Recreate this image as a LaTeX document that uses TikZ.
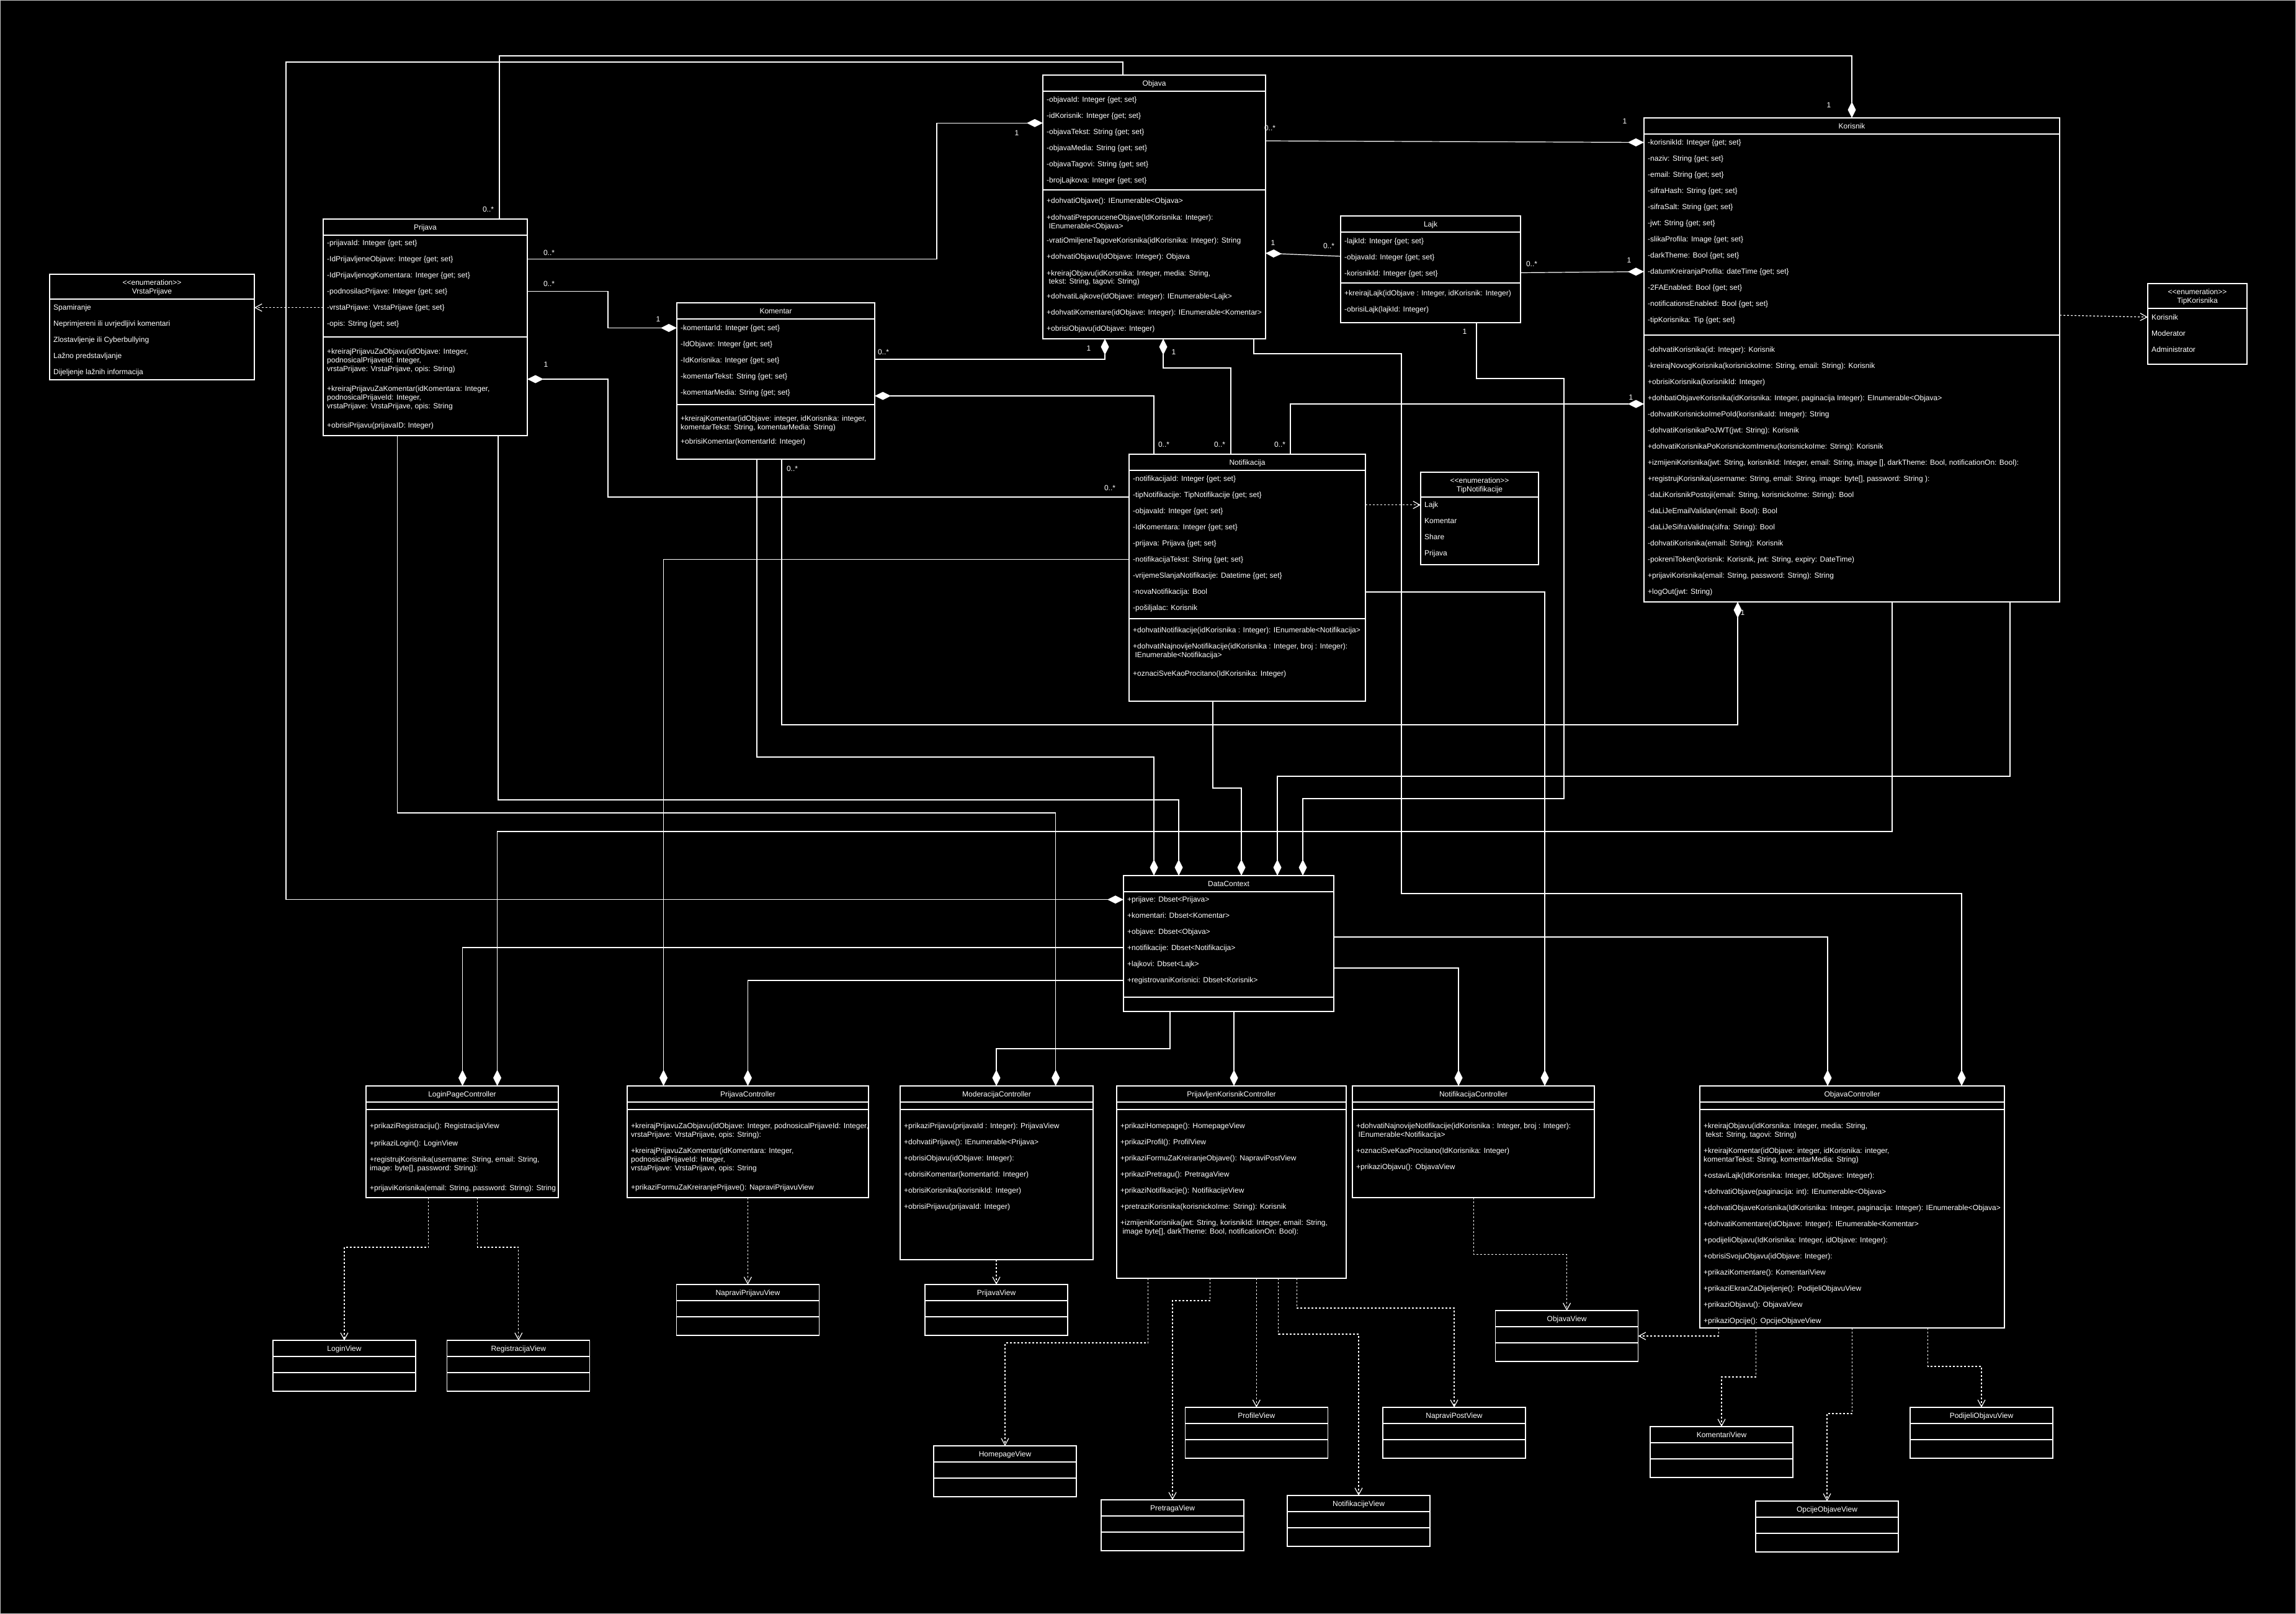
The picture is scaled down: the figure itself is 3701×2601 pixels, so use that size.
\documentclass[tikz,border=0pt]{standalone}
\usepackage{fontspec}
\setmainfont{Liberation Sans}
\usetikzlibrary{arrows.meta}

% class box: name, x, y, width, height, title, offset of the attribute/method separator
\newcommand\umlclass[7]{%
  \node[box, minimum width=#4pt, minimum height=#5pt] (#1) at (#2,#3) {};
  \draw[frame] ([yshift=-26pt]#1.north west) -- ([yshift=-26pt]#1.north east);
  \draw[frame] ([yshift=-#7pt]#1.north west) -- ([yshift=-#7pt]#1.north east);
  \node[ctr] (#1-title) at ([yshift=-13pt]#1.north) {#6};
}
% enumeration box: name, x, y, width, height, title
\newcommand\umlenum[6]{%
  \node[box, minimum width=#4pt, minimum height=#5pt] (#1) at (#2,#3) {};
  \draw[frame] ([yshift=-40pt]#1.north west) -- ([yshift=-40pt]#1.north east);
  \node[ctr] (#1-st) at ([yshift=-13.5pt]#1.north) {<{}<enumeration>{}>};
  \node[ctr] (#1-title) at ([yshift=-27.5pt]#1.north) {#6};
}
% view box: name, centre x, top y, title
\newcommand\umlview[4]{%
  \node[box, minimum width=230pt, minimum height=82pt] (#1) at (#2-115,#3) {};
  \draw[frame] ([yshift=-26pt]#1.north west) -- ([yshift=-26pt]#1.north east);
  \draw[frame] ([yshift=-52pt]#1.north west) -- ([yshift=-52pt]#1.north east);
  \node[ctr] (#1-title) at ([yshift=-13pt]#1.north) {#4};
}
% evenly spaced member rows: prefix, x, first row centre y, list
\newcommand\umlrows[4]{%
  \foreach \rowtext [count=\ri] in {#4} {\node[txt] (#1\ri) at (#2,#3+26*\ri-26) {\rowtext};}%
}
% one member line: name, x, centre y, text
\newcommand\umlline[4]{\node[txt] (#1) at (#2,#3) {#4};}

\begin{document}
\begin{tikzpicture}[x=1pt,y=-1pt,
  frame/.style={white, line width=1.2pt},
  box/.style={draw=white, line width=1.2pt, fill=black, anchor=north west, inner sep=0pt, outer sep=0pt},
  comp/.style={white, line width=1.2pt, -{Diamond[length=26pt,width=13pt]}},
  dep/.style={white, line width=1.2pt, dash pattern=on 3pt off 3pt, -{Straight Barb[length=11pt,width=12pt]}},
  txt/.style={text=white, anchor=base west, inner sep=0pt, yshift=-4.2pt, font=\fontsize{12}{14}\selectfont},
  ctr/.style={txt, anchor=base},
  mult/.style={text=white, inner sep=0pt, font=\fontsize{12}{14}\selectfont}
]
\useasboundingbox (0,0) rectangle (3701,2601);
\fill[black] (0,0) rectangle (3701,2601);
\draw[gray!45, line width=1pt] (0.5,0.5) rectangle (3700.5,2600.5);

% ---------- boxes ----------
\umlclass{objava}{1681}{121}{359}{425}{Objava}{185}
\umlclass{korisnik}{2650}{190}{670}{780}{Korisnik}{350}
\umlclass{prijava}{521}{353}{329}{349}{Prijava}{190}
\umlclass{komentar}{1091}{488}{319}{252}{Komentar}{164}
\umlclass{lajk}{2161}{348}{290}{172}{Lajk}{108}
\umlclass{notif}{1820}{732}{381}{398}{Notifikacija}{265}
\umlclass{dc}{1811}{1411}{339}{219}{DataContext}{196}
\umlclass{lc}{590}{1750}{310}{180}{LoginPageController}{38}
\umlclass{pc}{1011}{1750}{389}{180}{PrijavaController}{38}
\umlclass{mc}{1451}{1750}{311}{280}{ModeracijaController}{38}
\umlclass{pk}{1800}{1750}{370}{310}{PrijavljenKorisnikController}{38}
\umlclass{nc}{2180}{1750}{390}{180}{NotifikacijaController}{38}
\umlclass{oc}{2740}{1750}{491}{390}{ObjavaController}{38}
\umlenum{vp}{80}{442}{330}{170}{VrstaPrijave}
\umlenum{tn}{2290}{761}{190}{149}{TipNotifikacije}
\umlenum{tk}{3462}{457}{160}{130}{TipKorisnika}

% ---------- compositions ----------
\draw[comp] (prijava.north -| 805,0) |- (2985,90) -- (korisnik.north);
\draw[comp] (objava.north -| 1810,0) |- (461,100) |- (dc.west |- 0,1449.7);
\draw[comp] (prijava.east |- 0,417.7) -| (1510,198.3) -- (objava.west |- 0,198.3);
\draw[comp] (prijava.east |- 0,469.5) -| (980,528.5) -- (komentar.west |- 0,528.5);
\draw[comp] (notif.west |- 0,801) -| (980,611) -- (prijava.east |- 0,611);
\draw[comp] (komentar.east |- 0,579) -| (objava.south -| 1781,0);
\draw[comp] (notif.north -| 1984,0) |- (1875,593) -- (objava.south -| 1875,0);
\draw[comp] (notif.north -| 1860,0) |- (komentar.east |- 0,638);
\draw[comp] (notif.north -| 2080,0) |- (korisnik.west |- 0,651);
\draw[comp] (objava.east |- 0,227) -- (korisnik.west |- 0,229.5);
\draw[comp] (lajk.west |- 0,413) -- (objava.east |- 0,408);
\draw[comp] (lajk.east |- 0,439.5) -- (korisnik.west |- 0,437.7);
\draw[comp] (objava.south -| 2021,0) |- (2259,570) |- (3162,1440) -- (oc.north -| 3162,0);
\draw[comp] (lajk.south -| 2380,0) |- (2521,610) |- (2100,1287) -- (dc.north -| 2100,0);
\draw[comp] (notif.east |- 0,954) -| (nc.north -| 2490,0);
\draw[comp] (notif.west |- 0,901.7) -| (pc.north -| 1069.5,0);
\draw[comp] (komentar.south -| 1220,0) |- (1860,1220) -- (dc.north -| 1860,0);
\draw[comp] (komentar.south -| 1260,0) |- (2801,1168) -- (korisnik.south -| 2801,0);
\draw[comp] (prijava.south -| 803,0) |- (1900,1289) -- (dc.north -| 1900,0);
\draw[comp] (prijava.south -| 640.6,0) |- (1701.7,1310) -- (mc.north -| 1701.7,0);
\draw[comp] (korisnik.south -| 3050,0) |- (801.6,1340) -- (lc.north -| 801.6,0);
\draw[comp] (korisnik.south -| 3240,0) |- (2059,1251) -- (dc.north -| 2059,0);
\draw[comp] (notif.south -| 1955,0) |- (2001,1270) -- (dc.north -| 2001,0);
\draw[comp] (dc.east |- 0,1510) -| (oc.north -| 2946,0);
\draw[comp] (dc.east |- 0,1560) -| (nc.north -| 2351,0);
\draw[comp] (dc.west |- 0,1527) -| (lc.north -| 745.5,0);
\draw[comp] (dc.west |- 0,1580) -| (pc.north -| 1205.4,0);
\draw[comp] (dc.south -| 1886,0) |- (1606,1690) -- (mc.north -| 1606,0);
\draw[comp] (dc.south -| 1989,0) -- (pk.north -| 1989,0);

% ---------- enumeration dependencies ----------
\draw[dep] (prijava.west |- 0,495.7) -- (vp.east |- 0,495.7);
\draw[dep] (notif.east |- 0,813.7) -- (tn.west |- 0,813.7);
\draw[dep] (korisnik.east |- 0,508) -- (tk.west |- 0,511);

% ---------- views ----------
\umlview{loginv}{555}{2160}{LoginView}
\umlview{regv}{835.8}{2160}{RegistracijaView}
\umlview{nprv}{1205.4}{2070}{NapraviPrijavuView}
\umlview{prv}{1606}{2070}{PrijavaView}
\umlview{homev}{1620}{2330}{HomepageView}
\umlview{pretv}{1890}{2417}{PretragaView}
\umlview{profv}{2025.3}{2268}{ProfileView}
\umlview{notv}{2190}{2410}{NotifikacijeView}
\umlview{npostv}{2344}{2268}{NapraviPostView}
\umlview{objv}{2525.6}{2112}{ObjavaView}
\umlview{komv}{2775}{2299}{KomentariView}
\umlview{opcv}{2945}{2419}{OpcijeObjaveView}
\umlview{podv}{3194}{2268}{PodijeliObjavuView}

\draw[dep] (lc.south -| 690.8,0) |- (555,2010) -- (loginv.north);
\draw[dep] (lc.south -| 769.7,0) |- (835.8,2010) -- (regv.north);
\draw[dep] (pc.south -| 1205.4,0) -- (nprv.north);
\draw[dep] (mc.south -| 1606,0) -- (prv.north);
\draw[dep] (pk.south -| 1850.5,0) |- (1620,2164) -- (homev.north);
\draw[dep] (pk.south -| 1950.7,0) |- (1890,2096) -- (pretv.north);
\draw[dep] (pk.south -| 2025.3,0) -- (profv.north);
\draw[dep] (pk.south -| 2060.6,0) |- (2190,2150) -- (notv.north);
\draw[dep] (pk.south -| 2090.3,0) |- (2344,2108) -- (npostv.north);
\draw[dep] (nc.south -| 2375.4,0) |- (2525.6,2021.7) -- (objv.north);
\draw[dep] (oc.south -| 2770.3,0) |- (objv.east |- 0,2153);
\draw[dep] (oc.south -| 2830.3,0) |- (2775,2219) -- (komv.north);
\draw[dep] (oc.south -| 2985.7,0) |- (2945,2278) -- (opcv.north);
\draw[dep] (oc.south -| 3107.7,0) |- (3194,2202) -- (podv.north);

% ---------- multiplicities ----------
\node[mult] (m1) at (787,337) {0..*};
\node[mult] (m2) at (2948,169) {1};
\node[mult] (m3) at (1639,214) {1};
\node[mult] (m4) at (885,407) {0..*};
\node[mult] (m5) at (885,457) {0..*};
\node[mult] (m6) at (1061,514) {1};
\node[mult] (m7) at (880,587) {1};
\node[mult] (m8) at (1424,567) {0..*};
\node[mult] (m9) at (1755,561) {1};
\node[mult] (m10) at (1892,567) {1};
\node[mult] (m11) at (1876,716) {0..*};
\node[mult] (m12) at (1966,716) {0..*};
\node[mult] (m13) at (2063,716) {0..*};
\node[mult] (m14) at (2047,206) {0..*};
\node[mult] (m15) at (2619,195) {1};
\node[mult] (m16) at (2052,391) {1};
\node[mult] (m17) at (2142,396) {0..*};
\node[mult] (m18) at (2469,425) {0..*};
\node[mult] (m19) at (2626,419) {1};
\node[mult] (m20) at (2629,640) {1};
\node[mult] (m21) at (2361,534) {1};
\node[mult] (m22) at (1277,755) {0..*};
\node[mult] (m23) at (2809,987) {1};
\node[mult] (m24) at (1789,786) {0..*};

% ---------- Objava ----------
\umlrows{oa}{1687}{160}{{-objavaId: Integer \{get; set\}},{-idKorisnik: Integer \{get; set\}},{-objavaTekst: String \{get; set\}},{-objavaMedia: String \{get; set\}},{-objavaTagovi: String \{get; set\}},{-brojLajkova: Integer \{get; set\}}}
\umlline{om1}{1687}{323.3}{+dohvatiObjave(): IEnumerable<Objava>}
\umlline{om2}{1687}{350}{+dohvatiPreporuceneObjave(IdKorisnika: Integer):}
\umlline{om3}{1687}{364}{\hspace{3.3pt}IEnumerable<Objava>}
\umlline{om4}{1687}{387.3}{-vratiOmiljeneTagoveKorisnika(idKorisnika: Integer): String}
\umlline{om5}{1687}{413.3}{+dohvatiObjavu(IdObjave: Integer): Objava}
\umlline{om6}{1687}{440}{+kreirajObjavu(idKorsnika: Integer, media: String,}
\umlline{om7}{1687}{453.3}{\hspace{3.3pt}tekst: String, tagovi: String)}
\umlline{om8}{1687}{477.7}{+dohvatiLajkove(idObjave: integer): IEnumerable<Lajk>}
\umlline{om9}{1687}{503.3}{+dohvatiKomentare(idObjave: Integer): IEnumerable<Komentar>}
\umlline{om10}{1687}{529.3}{+obrisiObjavu(idObjave: Integer)}

% ---------- Korisnik ----------
\umlrows{ka}{2656}{229.5}{{-korisnikId: Integer \{get; set\}},{-naziv: String \{get; set\}},{-email: String \{get; set\}},{-sifraHash: String \{get; set\}},{-sifraSalt: String \{get; set\}},{-jwt: String \{get; set\}},{-slikaProfila: Image \{get; set\}},{-darkTheme: Bool \{get; set\}},{-datumKreiranjaProfila: dateTime \{get; set\}},{-2FAEnabled: Bool \{get; set\}},{-notificationsEnabled: Bool \{get; set\}},{-tipKorisnika: Tip \{get; set\}}}
\umlrows{km}{2656}{563.7}{{-dohvatiKorisnika(id: Integer): Korisnik},{-kreirajNovogKorisnika(korisnickoIme: String, email: String): Korisnik},{+obrisiKorisnika(korisnikId: Integer)},{+dohbatiObjaveKorisnika(idKorisnika: Integer, paginacija Integer): EInumerable<Objava>},{-dohvatiKorisnickoImePoId(korisnikaId: Integer): String},{-dohvatiKorisnikaPoJWT(jwt: String): Korisnik},{+dohvatiKorisnikaPoKorisnickomImenu(korisnickoIme: String): Korisnik},{+izmijeniKorisnika(jwt: String, korisnikId: Integer, email: String, image [], darkTheme: Bool, notificationOn: Bool):},{+registrujKorisnika(username: String, email: String, image: byte[], password: String ):},{-daLiKorisnikPostoji(email: String, korisnickoIme: String): Bool},{-daLiJeEmailValidan(email: Bool): Bool},{-daLiJeSifraValidna(sifra: String): Bool},{-dohvatiKorisnika(email: String): Korisnik},{-pokreniToken(korisnik: Korisnik, jwt: String, expiry: DateTime)},{+prijaviKorisnika(email: String, password: String): String},{+logOut(jwt: String)}}

% ---------- Prijava ----------
\umlrows{pa}{527}{391.7}{{-prijavaId: Integer \{get; set\}},{-IdPrijavljeneObjave: Integer \{get; set\}},{-IdPrijavljenogKomentara: Integer \{get; set\}},{-podnosilacPrijave: Integer \{get; set\}},{-vrstaPrijave: VrstaPrijave \{get; set\}},{-opis: String \{get; set\}}}
\umlline{pm1}{527}{566}{+kreirajPrijavuZaObjavu(idObjave: Integer,}
\umlline{pm2}{527}{580}{podnosicalPrijaveId: Integer,}
\umlline{pm3}{527}{594}{vrstaPrijave: VrstaPrijave, opis: String)}
\umlline{pm4}{527}{626}{+kreirajPrijavuZaKomentar(idKomentara: Integer,}
\umlline{pm5}{527}{640}{podnosicalPrijaveId: Integer,}
\umlline{pm6}{527}{654}{vrstaPrijave: VrstaPrijave, opis: String}
\umlline{pm7}{527}{685.7}{+obrisiPrijavu(prijavaID: Integer)}

% ---------- VrstaPrijave ----------
\umlrows{vpi}{86}{495.7}{Spamiranje,Neprimjereni ili uvrjedljivi komentari,Zlostavljenje ili Cyberbullying,Lažno predstavljanje,Dijeljenje lažnih informacija}

% ---------- Komentar ----------
\umlrows{ra}{1097}{528.3}{{-komentarId: Integer \{get; set\}},{-IdObjave: Integer \{get; set\}},{-IdKorisnika: Integer \{get; set\}},{-komentarTekst: String \{get; set\}},{-komentarMedia: String \{get; set\}}}
\umlline{rm1}{1097}{674}{+kreirajKomentar(idObjave: integer, idKorisnika: integer,}
\umlline{rm2}{1097}{688}{komentarTekst: String, komentarMedia: String)}
\umlline{rm3}{1097}{711}{+obrisiKomentar(komentarId: Integer)}

% ---------- Lajk ----------
\umlrows{la}{2167}{388.3}{{-lajkId: Integer \{get; set\}},{-objavaId: Integer \{get; set\}},{-korisnikId: Integer \{get; set\}}}
\umlrows{lm}{2167}{472}{{+kreirajLajk(idObjave : Integer, idKorisnik: Integer)},{-obrisiLajk(lajkId: Integer)}}

% ---------- Notifikacija ----------
\umlrows{na}{1826}{771.7}{{-notifikacijaId: Integer \{get; set\}},{-tipNotifikacije: TipNotifikacije \{get; set\}},{-objavaId: Integer \{get; set\}},{-IdKomentara: Integer \{get; set\}},{-prijava: Prijava \{get; set\}},{-notifikacijaTekst: String \{get; set\}},{-vrijemeSlanjaNotifikacije: Datetime \{get; set\}},{-novaNotifikacija: Bool},{-pošiljalac: Korisnik}}
\umlline{nm1}{1826}{1015.7}{+dohvatiNotifikacije(idKorisnika : Integer): IEnumerable<Notifikacija>}
\umlline{nm2}{1826}{1041.7}{+dohvatiNajnovijeNotifikacije(idKorisnika : Integer, broj : Integer):}
\umlline{nm3}{1826}{1055.7}{\hspace{3.3pt}IEnumerable<Notifikacija>}
\umlline{nm4}{1826}{1085.7}{+oznaciSveKaoProcitano(IdKorisnika: Integer)}

% ---------- TipNotifikacije / TipKorisnika ----------
\umlrows{tni}{2296}{813.7}{Lajk,Komentar,Share,Prijava}
\umlrows{tki}{3468}{511}{Korisnik,Moderator,Administrator}

% ---------- DataContext ----------
\umlrows{da}{1817}{1449.7}{{+prijave: Dbset<Prijava>},{+komentari: Dbset<Komentar>},{+objave: Dbset<Objava>},{+notifikacije: Dbset<Notifikacija>},{+lajkovi: Dbset<Lajk>},{+registrovaniKorisnici: Dbset<Korisnik>}}

% ---------- LoginPageController ----------
\umlline{lm1}{596}{1814}{+prikaziRegistraciju(): RegistracijaView}
\umlline{lm2}{596}{1842}{+prikaziLogin(): LoginView}
\umlline{lm3}{596}{1868.3}{+registrujKorisnika(username: String, email: String,}
\umlline{lm4}{596}{1882.3}{image: byte[], password: String):}
\umlline{lm5}{596}{1914}{+prijaviKorisnika(email: String, password: String): String}

% ---------- PrijavaController ----------
\umlline{pcm1}{1017}{1814}{+kreirajPrijavuZaObjavu(idObjave: Integer, podnosicalPrijaveId: Integer,}
\umlline{pcm2}{1017}{1828}{vrstaPrijave: VrstaPrijave, opis: String):}
\umlline{pcm3}{1017}{1854.3}{+kreirajPrijavuZaKomentar(idKomentara: Integer,}
\umlline{pcm4}{1017}{1868}{podnosicalPrijaveId: Integer,}
\umlline{pcm5}{1017}{1882}{vrstaPrijave: VrstaPrijave, opis: String}
\umlline{pcm6}{1017}{1913.7}{+prikaziFormuZaKreiranjePrijave(): NapraviPrijavuView}

% ---------- ModeracijaController ----------
\umlrows{mcm}{1457}{1814}{{+prikaziPrijavu(prijavaId : Integer): PrijavaView},{+dohvatiPrijave(): IEnumerable<Prijava>},{+obrisiObjavu(idObjave: Integer):},{+obrisiKomentar(komentarId: Integer)},{+obrisiKorisnika(korisnikId: Integer)},{+obrisiPrijavu(prijavaId: Integer)}}

% ---------- PrijavljenKorisnikController ----------
\umlrows{pkm}{1806}{1814}{{+prikaziHomepage(): HomepageView},{+prikaziProfil(): ProfilView},{+prikaziFormuZaKreiranjeObjave(): NapraviPostView},{+prikaziPretragu(): PretragaView},{+prikaziNotifikacije(): NotifikacijeView},{+pretraziKorisnika(korisnickoIme: String): Korisnik}}
\umlline{pkm7}{1806}{1970}{+izmijeniKorisnika(jwt: String, korisnikId: Integer, email: String,}
\umlline{pkm8}{1806}{1984}{\hspace{3.3pt}image byte[], darkTheme: Bool, notificationOn: Bool):}

% ---------- NotifikacijaController ----------
\umlline{ncm1}{2186}{1814}{+dohvatiNajnovijeNotifikacije(idKorisnika : Integer, broj : Integer):}
\umlline{ncm2}{2186}{1828}{\hspace{3.3pt}IEnumerable<Notifikacija>}
\umlline{ncm3}{2186}{1854}{+oznaciSveKaoProcitano(IdKorisnika: Integer)}
\umlline{ncm4}{2186}{1880}{+prikaziObjavu(): ObjavaView}

% ---------- ObjavaController ----------
\umlline{ocm1}{2746}{1814}{+kreirajObjavu(idKorsnika: Integer, media: String,}
\umlline{ocm2}{2746}{1828}{\hspace{3.3pt}tekst: String, tagovi: String)}
\umlline{ocm3}{2746}{1854}{+kreirajKomentar(idObjave: integer, idKorisnika: integer,}
\umlline{ocm4}{2746}{1868}{komentarTekst: String, komentarMedia: String)}
\umlrows{ocr}{2746}{1894}{{+ostaviLajk(IdKorisnika: Integer, IdObjave: Integer):},{+dohvatiObjave(paginacija: int): IEnumerable<Objava>},{+dohvatiObjaveKorisnika(IdKorisnika: Integer, paginacija: Integer): IEnumerable<Objava>},{+dohvatiKomentare(idObjave: Integer): IEnumerable<Komentar>},{+podijeliObjavu(IdKorisnika: Integer, idObjave: Integer):},{+obrisiSvojuObjavu(idObjave: Integer):},{+prikaziKomentare(): KomentariView},{+prikaziEkranZaDijeljenje(): PodijeliObjavuView},{+prikaziObjavu(): ObjavaView},{+prikaziOpcije(): OpcijeObjaveView}}
\end{tikzpicture}
\end{document}
